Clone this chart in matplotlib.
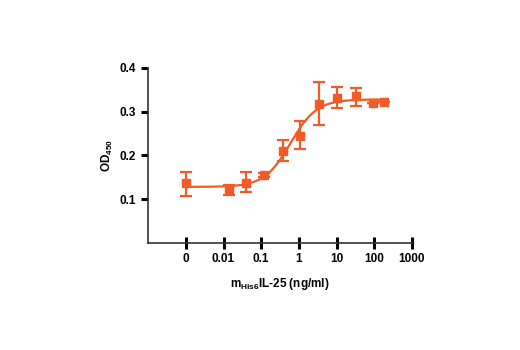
import numpy as np
import matplotlib
matplotlib.use('Agg')
import matplotlib.pyplot as plt

plt.rcParams['font.family'] = ['Liberation Sans', 'DejaVu Sans']
plt.rcParams['mathtext.fontset'] = 'custom'
plt.rcParams['mathtext.rm'] = 'Liberation Sans:bold'
plt.rcParams['mathtext.bf'] = 'Liberation Sans:bold'

# concentrations (ng/ml), the "0" point is drawn at 0.001
conc = [0.001, 0.0136, 0.04, 0.12, 0.37, 1.1, 3.4, 10, 32, 92, 180]
od = [0.136, 0.123, 0.138, 0.155, 0.211, 0.245, 0.318, 0.332, 0.335, 0.320, 0.323]
err_lo = [0.028, 0.014, 0.021, 0.005, 0.024, 0.031, 0.048, 0.023, 0.022, 0.0, 0.0]
err_hi = [0.026, 0.010, 0.023, 0.005, 0.025, 0.033, 0.049, 0.024, 0.020, 0.0, 0.0]

# 4 parameter fit: bottom, top, ec50, hill
fit_bottom = 0.128
fit_top = 0.328
fit_ec50 = 0.6
fit_hill = 1.25

xticks = [0.001, 0.01, 0.1, 1, 10, 100, 1000]
xticklabels = ['0', '0.01', '0.1', '1', '10', '100', '1000']
yticks = [0.1, 0.2, 0.3, 0.4]

col = '#f15a29'

fig = plt.figure(figsize=(5.2, 3.5), dpi=100)
ax = fig.add_axes([0.285, 0.306, 0.507, 0.5])

xf = np.logspace(-3, np.log10(180), 300)
yf = fit_bottom + (fit_top - fit_bottom) / (1 + (fit_ec50 / xf) ** fit_hill)
ax.plot(xf, yf, color=col, lw=1.6)
ax.errorbar(conc, od, yerr=[err_lo, err_hi], fmt='s', color=col, ms=6,
            elinewidth=1.6, capsize=4, capthick=1.6, lw=0)

ax.set_xscale('log')
ax.set_xlim(1e-4, 1000)
ax.set_ylim(0, 0.4)
ax.set_xticks(xticks)
ax.set_xticklabels(xticklabels, fontweight='bold')
ax.minorticks_off()
ax.set_yticks(yticks)
ax.set_yticklabels(['0.1', '0.2', '0.3', '0.4'], fontweight='bold')
ax.spines['top'].set_visible(False)
ax.spines['right'].set_visible(False)
for s in ['left', 'bottom']:
    ax.spines[s].set_linewidth(1.2)
    ax.spines[s].set_color('#333333')
ax.tick_params(width=2.2, length=5, labelsize=8.5, color='black', pad=4)
ax.tick_params(axis='x', direction='inout', length=8, pad=3)

ax.set_xlabel(r'm$_{\mathrm{His6}}$IL-25 (ng/ml)', fontsize=8.5, fontweight='bold', labelpad=8)
ax.set_ylabel(r'OD$_{\mathrm{450}}$', fontsize=8.5, fontweight='bold', labelpad=3)

fig.savefig('out.png', dpi=100)
